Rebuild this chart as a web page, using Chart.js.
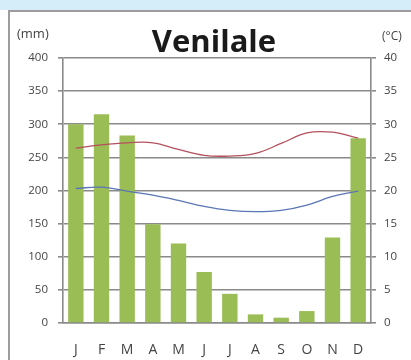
<!DOCTYPE html>
<html>
<head>
<meta charset="utf-8">
<script src="https://cdn.jsdelivr.net/npm/chart.js@4"></script>
<style>
  html, body { margin: 0; padding: 0; background: #fff; width: 411px; height: 360px; overflow: hidden; }
  .band { position: absolute; left: 0; top: 0; width: 411px; height: 10px; background: #d5edf8; }
  .frame { position: absolute; left: 8px; top: 10px; width: 420px; height: 380px;
           border-left: 2px solid #9d9d9d; border-top: 2px solid #9d9d9d; }
  #wrap { position: absolute; left: 0; top: 0; width: 411px; height: 360px; }
</style>
</head>
<body>
<div class="band"></div>
<div class="frame"></div>
<div id="wrap"><canvas id="chart" width="411" height="360"></canvas></div>
<script>
// Klimadiagramm Venilale – Niederschlag (mm) und Temperatur (°C)
const months   = ['J', 'F', 'M', 'A', 'M', 'J', 'J', 'A', 'S', 'O', 'N', 'D'];
const rainMm   = [300, 315, 283, 149, 120, 77, 44, 13, 8, 18, 129, 279];
const tempMax  = [26.4, 26.9, 27.2, 27.2, 26.2, 25.3, 25.2, 25.6, 27.1, 28.7, 28.8, 27.9];
const tempMin  = [20.3, 20.5, 19.9, 19.3, 18.5, 17.6, 17.0, 16.8, 17.0, 17.8, 19.1, 19.9];

const FONT = '"Open Sans", "Liberation Sans", sans-serif';
const gridCol = '#8a8a8a';
const textCol = '#444';

// Titel und Einheiten oben
const headerPlugin = {
  id: 'header',
  afterDraw(chart) {
    const { ctx, chartArea } = chart;
    ctx.save();
    ctx.fillStyle = '#1a1a1a';
    ctx.font = `bold 31px ${FONT}`;
    ctx.textAlign = 'center';
    ctx.textBaseline = 'alphabetic';
    ctx.fillText('Venilale', 214, 52);
    ctx.fillStyle = textCol;
    ctx.textAlign = 'left';
    ctx.font = `13px ${FONT}`;
    ctx.fillText('(mm)', 17, 38);
    ctx.font = `12px ${FONT}`;
    ctx.fillText('(°C)', chartArea.right + 11, 40);
    ctx.restore();
  },
};

new Chart(document.getElementById('chart'), {
  data: {
    labels: months,
    datasets: [
      {
        type: 'line',
        data: tempMax,
        yAxisID: 'y1',
        borderColor: '#b4505e',
        borderWidth: 1.3,
        tension: 0.4,
        pointRadius: 0,
        order: 0,
      },
      {
        type: 'line',
        data: tempMin,
        yAxisID: 'y1',
        borderColor: '#5a76b4',
        borderWidth: 1.3,
        tension: 0.4,
        pointRadius: 0,
        order: 0,
      },
      {
        type: 'bar',
        data: rainMm,
        yAxisID: 'y',
        backgroundColor: '#9bbd55',
        categoryPercentage: 1,
        barPercentage: 0.6,
        order: 1,
      },
    ],
  },
  plugins: [headerPlugin],
  options: {
    responsive: false,
    animation: false,
    layout: { padding: { top: 58, left: 0, right: 0, bottom: 0 } },
    plugins: { legend: { display: false }, tooltip: { enabled: false }, title: { display: false } },
    scales: {
      x: {
        grid: { display: false, drawTicks: false },
        border: { display: true, color: gridCol, width: 1.5 },
        ticks: { font: { size: 14, family: FONT }, color: textCol, padding: 19 },
        afterFit(s) { s.height = 37; },
      },
      y: {
        position: 'left',
        min: 0, max: 400,
        grid: { color: gridCol, lineWidth: 1.6, tickLength: 5 },
        border: { display: true, color: gridCol, width: 1.6 },
        ticks: { stepSize: 50, font: { size: 11.5, family: FONT }, color: textCol, padding: 10 },
        afterFit(s) { s.width = 63; },
      },
      y1: {
        position: 'right',
        min: 0, max: 40,
        grid: { drawOnChartArea: false, color: gridCol, lineWidth: 1.6, tickLength: 5 },
        border: { display: true, color: gridCol, width: 1.6 },
        ticks: { stepSize: 5, font: { size: 11.5, family: FONT }, color: textCol, padding: 8 },
        afterFit(s) { s.width = 40; },
      },
    },
  },
});
</script>
</body>
</html>
